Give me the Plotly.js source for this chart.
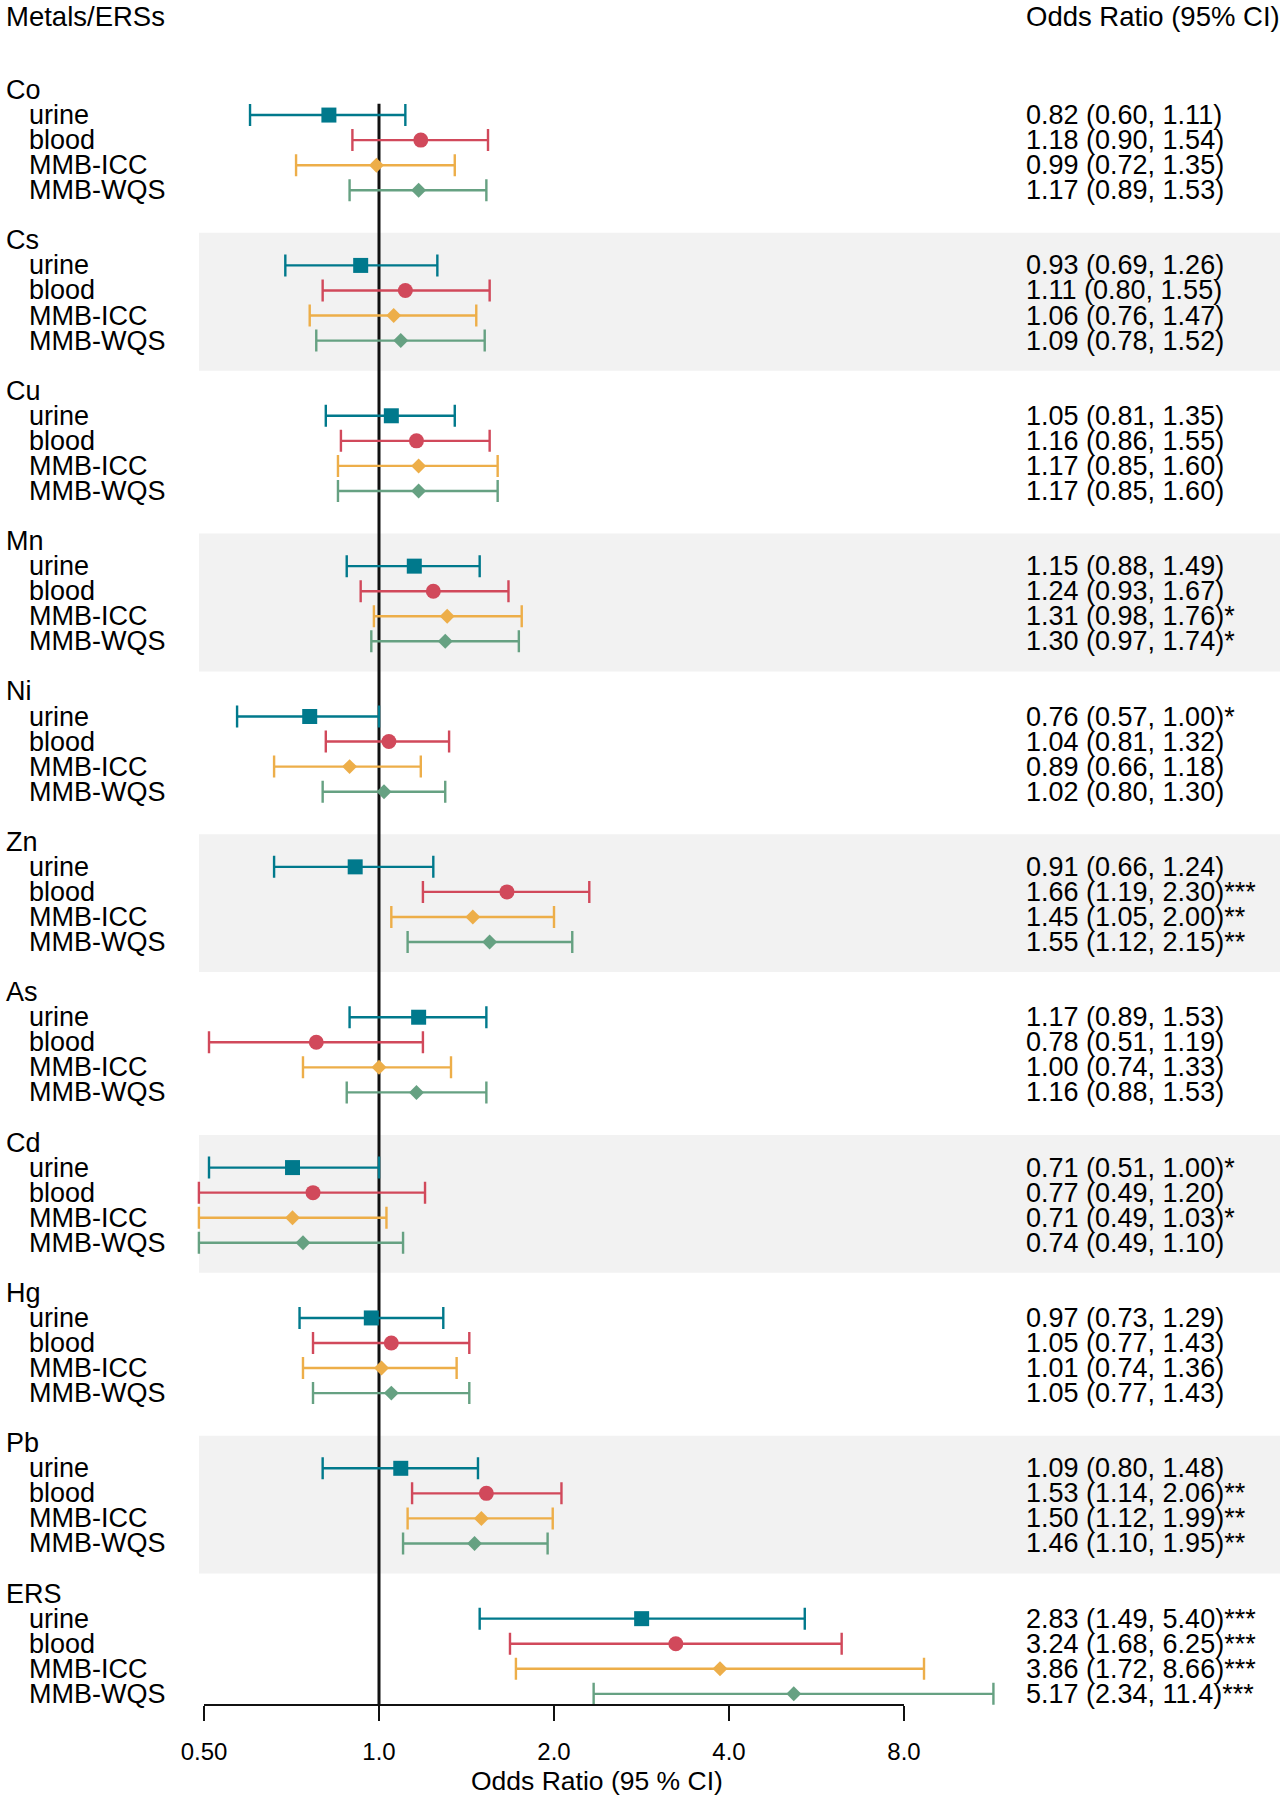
<!DOCTYPE html>
<html>
<head>
<meta charset="utf-8">
<script src="https://cdn.plot.ly/plotly-3.0.1.min.js"></script>
<style>html,body{margin:0;padding:0;background:#fff;}#chart{width:1285px;height:1800px;}</style>
</head>
<body>
<div id="chart"></div>
<script>
// ---- data ----
const groups = ['Co','Cs','Cu','Mn','Ni','Zn','As','Cd','Hg','Pb','ERS'];
const seriesNames = ['urine','blood','MMB-ICC','MMB-WQS'];

const urineOR = [0.82,0.93,1.05,1.15,0.76,0.91,1.17,0.71,0.97,1.09,2.83];
const urineLo = [0.60,0.69,0.81,0.88,0.57,0.66,0.89,0.51,0.73,0.80,1.49];
const urineHi = [1.11,1.26,1.35,1.49,1.00,1.24,1.53,1.00,1.29,1.48,5.40];
const urineSig = ['','','','','*','','','*','','','***'];

const bloodOR = [1.18,1.11,1.16,1.24,1.04,1.66,0.78,0.77,1.05,1.53,3.24];
const bloodLo = [0.90,0.80,0.86,0.93,0.81,1.19,0.51,0.49,0.77,1.14,1.68];
const bloodHi = [1.54,1.55,1.55,1.67,1.32,2.30,1.19,1.20,1.43,2.06,6.25];
const bloodSig = ['','','','','','***','','','','**','***'];

const iccOR = [0.99,1.06,1.17,1.31,0.89,1.45,1.00,0.71,1.01,1.50,3.86];
const iccLo = [0.72,0.76,0.85,0.98,0.66,1.05,0.74,0.49,0.74,1.12,1.72];
const iccHi = [1.35,1.47,1.60,1.76,1.18,2.00,1.33,1.03,1.36,1.99,8.66];
const iccSig = ['','','','*','','**','','*','','**','***'];

const wqsOR = [1.17,1.09,1.17,1.30,1.02,1.55,1.16,0.74,1.05,1.46,5.17];
const wqsLo = [0.89,0.78,0.85,0.97,0.80,1.12,0.88,0.49,0.77,1.10,2.34];
const wqsHi = [1.53,1.52,1.60,1.74,1.30,2.15,1.53,1.10,1.43,1.95,11.4];
const wqsSig = ['','','','*','','**','','','','**','***'];

const tickVals = [0.5,1,2,4,8];
const tickText = ['0.50','1.0','2.0','4.0','8.0'];
const shadedGroups = [1,3,5,7,9];

// ---- styling ----
const colors = ['#00798c','#d1495b','#edae49','#66a182'];
const symbols = ['square','circle','diamond','diamond'];
const sizes = [15,15,11.5,11.5];
const FONT = '"Liberation Sans", Arial, Helvetica, sans-serif';
const W = 1285, H = 1800, TOP = 60, BOTTOM = 95;
const rowsPerGroup = 6;
const TXT = 27;

const series = [
  {or: urineOR, lo: urineLo, hi: urineHi, sig: urineSig},
  {or: bloodOR, lo: bloodLo, hi: bloodHi, sig: bloodSig},
  {or: iccOR,   lo: iccLo,   hi: iccHi,   sig: iccSig},
  {or: wqsOR,   lo: wqsLo,   hi: wqsHi,   sig: wqsSig}
];

function rowOf(g, s) { return g * rowsPerGroup + 1 + s; }
function fmt(v) { return v >= 10 ? v.toFixed(1) : v.toFixed(2); }

const traces = series.map((d, s) => ({
  type: 'scatter',
  mode: 'markers',
  name: seriesNames[s],
  x: d.or,
  y: groups.map((_, g) => rowOf(g, s)),
  error_x: {
    type: 'data', symmetric: false,
    array: d.or.map((v, i) => d.hi[i] - v),
    arrayminus: d.or.map((v, i) => v - d.lo[i]),
    color: colors[s], thickness: 2.4, width: 11
  },
  marker: {symbol: symbols[s], size: sizes[s], color: colors[s], line: {width: 0}},
  cliponaxis: false,
  hoverinfo: 'skip',
  showlegend: false
}));

const annotations = [];
const px = x => x / W;
const plotH = H - TOP - BOTTOM;
const pyPaper = y => (H - BOTTOM - y) / plotH;
const txt = (o) => Object.assign({showarrow:false, borderpad:0, yanchor:'middle', xanchor:'left'}, o);

// headers
annotations.push(txt({xref:'paper', yref:'paper', x: px(5), y: pyPaper(17),
  text:'Metals/ERSs', font:{family:FONT, size:27.5, color:'#000'}}));
annotations.push(txt({xref:'paper', yref:'paper', x: px(1025), y: pyPaper(17),
  text:'Odds Ratio (95% CI)', font:{family:FONT, size:27.5, color:'#000'}}));
// axis title
annotations.push(txt({xref:'paper', yref:'paper', x: px(597), y: pyPaper(1781), xanchor:'center',
  text:'Odds Ratio (95 % CI)', font:{family:FONT, size:26.5, color:'#000'}}));

groups.forEach((gname, g) => {
  annotations.push(txt({xref:'paper', yref:'y', x: px(5), y: g * rowsPerGroup,
    text: gname, font:{family:FONT, size:TXT, color:'#000'}}));
  series.forEach((d, s) => {
    annotations.push(txt({xref:'paper', yref:'y', x: px(28), y: rowOf(g, s),
      text: seriesNames[s], font:{family:FONT, size:TXT, color:'#000'}}));
    annotations.push(txt({xref:'paper', yref:'y', x: px(1025), y: rowOf(g, s),
      text: fmt(d.or[g]) + ' (' + fmt(d.lo[g]) + ', ' + fmt(d.hi[g]) + ')' + d.sig[g],
      font:{family:FONT, size:TXT, color:'#000'}}));
  });
});

// y mapping: pixel = 90 + r*25.06
const rowPx = 25.06, row0 = 90;
const yTop = (TOP - row0) / rowPx;
const yBot = (H - BOTTOM - row0) / rowPx;

// x mapping: pixel = 379 + 175*log2(v)
const l2 = Math.log10(2);
const xMin = ((0 - 379) / 175) * l2;
const xMax = ((W - 379) / 175) * l2;

const shapes = [];
shadedGroups.forEach(g => {
  shapes.push({type:'rect', layer:'below', xref:'paper', yref:'y',
    x0: px(199), x1: px(1280), y0: g * rowsPerGroup - 0.3, y1: g * rowsPerGroup + 5.2,
    fillcolor:'#f2f2f2', line:{width:0}});
});
shapes.push({type:'line', layer:'below', xref:'x', yref:'y', x0:1, x1:1, y0:0.55, y1:yBot,
  line:{color:'#111', width:3}});
shapes.push({type:'line', layer:'above', xref:'x', yref:'paper', x0:tickVals[0], x1:tickVals[tickVals.length-1], y0:0, y1:0,
  line:{color:'#111', width:2.2}});

const layout = {
  width: W, height: H,
  margin: {l:0, r:0, t:TOP, b:BOTTOM, pad:0},
  paper_bgcolor:'#fff', plot_bgcolor:'#fff',
  showlegend:false,
  font:{family:FONT, color:'#000'},
  xaxis: {
    type:'log', range:[xMin, xMax], domain:[0,1],
    tickmode:'array', tickvals: tickVals, ticktext: tickText,
    ticks:'outside', ticklen:15, tickwidth:2.2, tickcolor:'#111',
    ticklabelstandoff: 10,
    tickfont:{family:FONT, size:24, color:'#000'},
    showgrid:false, zeroline:false, showline:false, fixedrange:true
  },
  yaxis: {
    range:[yBot, yTop], showgrid:false, zeroline:false, showline:false,
    showticklabels:false, ticks:'', fixedrange:true
  },
  shapes: shapes,
  annotations: annotations
};

Plotly.newPlot('chart', traces, layout, {displayModeBar:false, staticPlot:true});
</script>
</body>
</html>
